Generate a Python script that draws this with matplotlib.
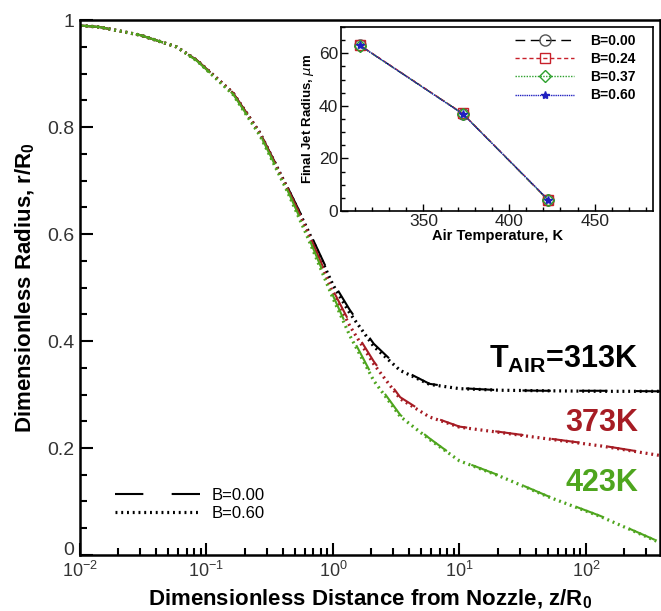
import numpy as np
import matplotlib.pyplot as plt
import matplotlib.transforms as mtransforms
from matplotlib.ticker import MultipleLocator, LogLocator, NullFormatter

plt.rcParams['font.family'] = ['Liberation Sans', 'DejaVu Sans']
plt.rcParams['mathtext.fontset'] = 'custom'
plt.rcParams['mathtext.rm'] = 'Liberation Sans'
plt.rcParams['mathtext.bf'] = 'Liberation Sans:bold'

# Main plot: dimensionless radius vs distance from nozzle
z = [0.01, 0.0144, 0.03, 0.058, 0.084, 0.162, 0.265, 0.433, 0.62, 1.0,
     1.36, 2.1, 3.4, 5.8, 10, 21, 50, 130, 385]
r_313_b000 = [0.99, 0.987, 0.972, 0.95, 0.925, 0.864, 0.789, 0.69, 0.615, 0.51,
              0.458, 0.395, 0.348, 0.32, 0.312, 0.308, 0.307, 0.307, 0.306]
r_313_b060 = [0.99, 0.987, 0.972, 0.95, 0.925, 0.864, 0.789, 0.688, 0.612, 0.505,
              0.452, 0.39, 0.345, 0.319, 0.311, 0.308, 0.307, 0.306, 0.306]
r_373_b000 = [0.99, 0.987, 0.972, 0.95, 0.925, 0.864, 0.789, 0.688, 0.61, 0.495,
              0.434, 0.362, 0.295, 0.26, 0.24, 0.23, 0.218, 0.205, 0.187]
r_373_b060 = [0.99, 0.987, 0.972, 0.95, 0.925, 0.864, 0.788, 0.686, 0.607, 0.49,
              0.428, 0.357, 0.292, 0.258, 0.239, 0.229, 0.217, 0.204, 0.186]
r_423_b000 = [0.99, 0.987, 0.972, 0.95, 0.924, 0.862, 0.786, 0.684, 0.602, 0.485,
              0.415, 0.33, 0.262, 0.218, 0.177, 0.148, 0.11, 0.073, 0.024]
r_423_b060 = [0.99, 0.987, 0.972, 0.95, 0.924, 0.861, 0.784, 0.681, 0.598, 0.48,
              0.41, 0.326, 0.259, 0.216, 0.176, 0.147, 0.109, 0.072, 0.023]

# Inset: final jet radius vs air temperature
t_air = [313, 373, 423]
rad_b000 = [63.0, 37.0, 4.0]
rad_b024 = [63.1, 37.1, 4.1]
rad_b037 = [62.9, 37.0, 4.0]
rad_b060 = [63.0, 36.9, 4.2]

c_313 = 'black'
c_373 = '#a61c24'
c_423 = '#4ea51e'

fig = plt.figure(figsize=(6.61, 6.11), dpi=100)
ax = fig.add_axes([0.121, 0.0917, 0.8775, 0.8753])

dash_long = (0, (13.6, 13.6))
dots = (0, (0.6, 1.2))
for rb0, rb6, col in [(r_313_b000, r_313_b060, c_313),
                      (r_373_b000, r_373_b060, c_373),
                      (r_423_b000, r_423_b060, c_423)]:
    ax.plot(z, rb0, color=col, lw=1.5, ls=dash_long)
    ax.plot(z, rb6, color=col, lw=2.3, ls=dots)

ax.set_xscale('log')
ax.set_xlim(0.01, 385)
ax.set_ylim(0, 1)
ax.yaxis.set_minor_locator(MultipleLocator(0.05))
ax.set_yticks([0, 0.2, 0.4, 0.6, 0.8, 1.0])
ax.set_yticklabels(['0', '0.2', '0.4', '0.6', '0.8', '1'])
ax.xaxis.set_minor_locator(LogLocator(base=10, subs=np.arange(2, 10), numticks=20))
ax.xaxis.set_minor_formatter(NullFormatter())
ax.tick_params(which='both', direction='in', width=1.5, labelsize=14,
               labelcolor='#333333', pad=4)
ax.tick_params(axis='x', labelsize=13)
ax.tick_params(which='major', length=9)
ax.tick_params(which='minor', length=5)
for s in ax.spines.values():
    s.set_linewidth(1.8)

# nudge the "0" label up a little so it clears 10^-2
lbl0 = ax.get_yticklabels()[0]
lbl0.set_transform(lbl0.get_transform() +
                   mtransforms.ScaledTranslation(0, 5 / 72, fig.dpi_scale_trans))

ax.set_xlabel('Dimensionless Distance from Nozzle, z/R$_\\mathbf{0}$',
              fontsize=16, fontweight='bold', labelpad=5)
ax.set_ylabel('Dimensionless Radius, r/R$_\\mathbf{0}$',
              fontsize=16, fontweight='bold', labelpad=7)

# temperature labels
ax.text(0.962, 0.366, 'T$_{\\mathbf{AIR}}$=313K', transform=ax.transAxes,
        ha='right', va='center', fontsize=22, fontweight='bold', color=c_313)
ax.text(0.962, 0.247, '373K', transform=ax.transAxes,
        ha='right', va='center', fontsize=22, fontweight='bold', color=c_373)
ax.text(0.962, 0.135, '423K', transform=ax.transAxes,
        ha='right', va='center', fontsize=22, fontweight='bold', color=c_423)

# main legend
h0, = ax.plot([], [], color='black', lw=1.5, ls=dash_long)
h6, = ax.plot([], [], color='black', lw=2.3, ls=dots)
ax.legend([h0, h6], ['B=0.00', 'B=0.60'], loc='lower left',
          bbox_to_anchor=(0.035, 0.035), frameon=False, fontsize=12,
          handlelength=5.1, handletextpad=0.7, labelspacing=0.2)

# inset
ins = fig.add_axes([0.516, 0.6547, 0.472, 0.3011])
ins.plot(t_air, rad_b000, color='black', lw=1, ls=(0, (7, 4)),
         marker='o', ms=8, mfc='none', mec='#555555')
ins.plot(t_air, rad_b024, color='#c8202a', lw=1, ls=(0, (3, 2)),
         marker='s', ms=7, mfc='none', mec='#c8202a')
ins.plot(t_air, rad_b037, color='#2ca02c', lw=1, ls=(0, (1, 1)),
         marker='D', ms=6, mfc='none', mec='#2ca02c')
ins.plot(t_air, rad_b060, color='#2020c0', lw=1, ls=(0, (1, 0.6)),
         marker='*', ms=6, mfc='#2020c0', mec='#2020c0')
ins.set_xlim(302, 484)
ins.set_ylim(0, 70)
ins.xaxis.set_major_locator(MultipleLocator(50))
ins.xaxis.set_minor_locator(MultipleLocator(10))
ins.yaxis.set_major_locator(MultipleLocator(20))
ins.yaxis.set_minor_locator(MultipleLocator(5))
ins.tick_params(which='both', direction='in', width=1, labelsize=12.5,
                labelcolor='#222222', pad=2)
ins.tick_params(which='major', length=5)
ins.tick_params(which='minor', length=3)
for s in ins.spines.values():
    s.set_linewidth(1.2)
ins.set_xlabel('Air Temperature, K', fontsize=10.5, fontweight='bold', labelpad=0)
ins.set_ylabel('Final Jet Radius, $\\mu$m', fontsize=9.5, fontweight='bold', labelpad=2)
ins.legend(['B=0.00', 'B=0.24', 'B=0.37', 'B=0.60'], loc='upper right',
           bbox_to_anchor=(0.985, 1.03), frameon=False,
           prop={'size': 10, 'weight': 'bold'},
           handlelength=4.2, handletextpad=1.2, labelspacing=0.3)

fig.savefig('out.png', dpi=100)
